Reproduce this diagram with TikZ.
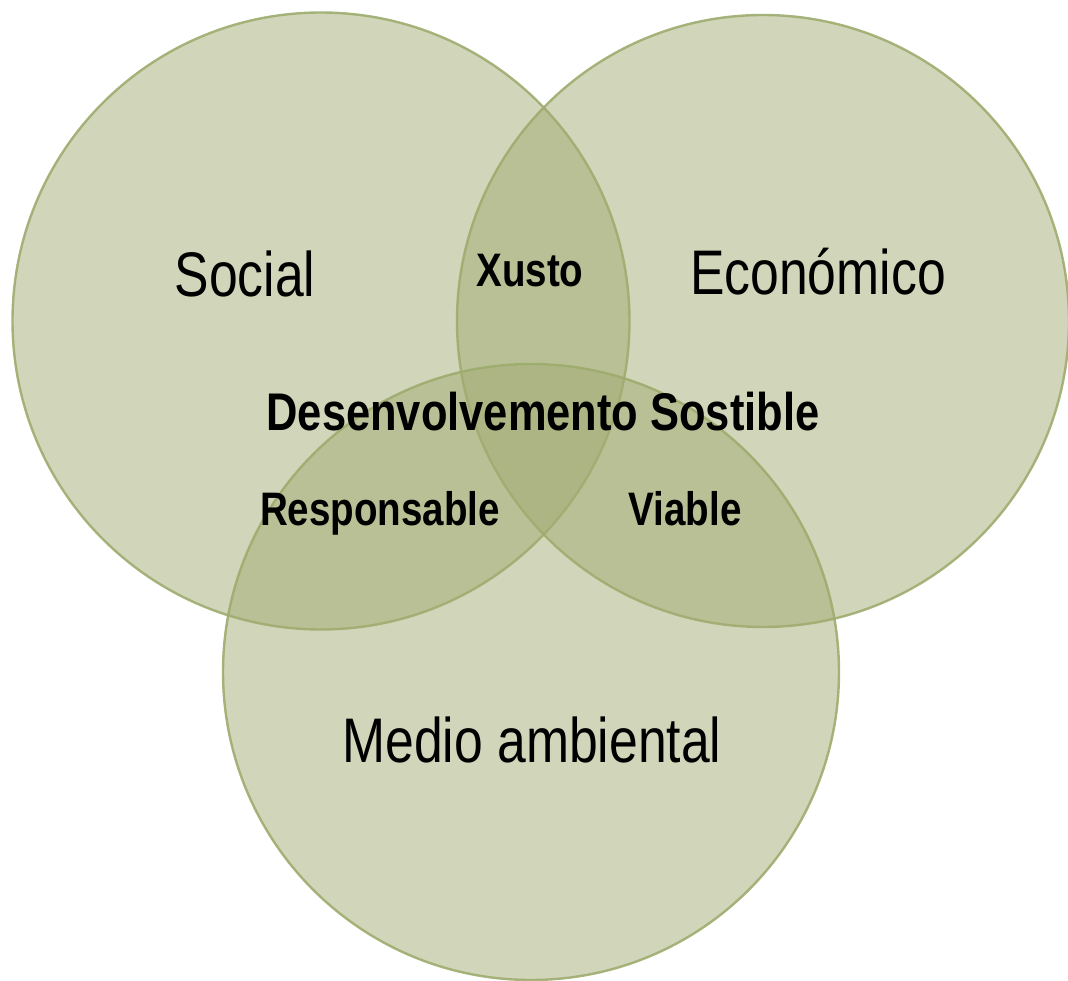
\documentclass[tikz,border=0pt]{standalone}
\usepackage{fontspec}
\setmainfont[FakeStretch=0.82]{Liberation Sans}
\definecolor{olivefill}{RGB}{163,171,115}
\definecolor{oliveline}{RGB}{157,172,110}

\begin{document}
\begin{tikzpicture}[x=1pt, y=-1pt,
	ring/.style={draw=oliveline, line width=2.4pt, fill=olivefill, fill opacity=0.5, draw opacity=0.9},
	area/.style={font=\fontsize{63}{63}\selectfont, anchor=base, inner sep=0pt},
	lab/.style={font=\bfseries\fontsize{47}{47}\selectfont, anchor=base, inner sep=0pt}]
	\useasboundingbox (0,0) rectangle (1068,981);
	\draw[ring] (321,321) circle[radius=308.5pt];
	\draw[ring] (763,321) circle[radius=306pt];
	\draw[ring] (531,672) circle[radius=308pt];
	\node[area] (soc) at (245,297) {Social};
	\node[area] (eco) at (818,295) {Económico};
	\node[area] (med) at (532,762) {Medio ambiental};
	\node[lab] (xus) at (530,287) {Xusto};
	\node[lab, font=\bfseries\fontsize{53}{53}\selectfont] (des) at (543,430) {Desenvolvemento Sostible};
	\node[lab] (res) at (380,525) {Responsable};
	\node[lab] (via) at (685,525) {Viable};
\end{tikzpicture}
\end{document}
